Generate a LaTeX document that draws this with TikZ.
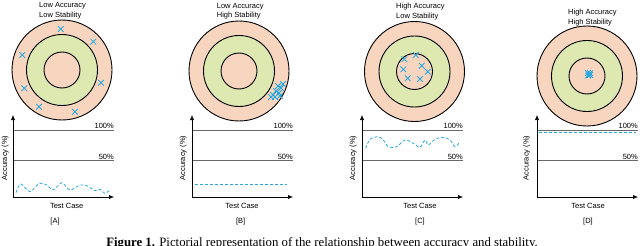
\documentclass[tikz,border=0pt]{standalone}
\usepackage{fontspec}
\setmainfont{Liberation Serif}
\setsansfont{Liberation Sans}
\usetikzlibrary{arrows.meta,shapes.misc}

\definecolor{peach}{RGB}{247,213,190}
\definecolor{lime}{RGB}{222,233,178}
\definecolor{shot}{RGB}{41,168,224}
\definecolor{rulegray}{RGB}{105,105,105}

\tikzset{
    ring/.style={circle, draw=black, line width=0.9pt, inner sep=0pt},
    hit/.style={cross out, draw=shot, line width=0.85pt, minimum size=4.8pt, inner sep=0pt},
    axis/.style={draw=black, line width=0.6pt, -{Latex[length=5pt,width=4.2pt]}},
    pctline/.style={draw=rulegray, line width=0.7pt},
    trace/.style={draw=shot, line width=0.8pt, dash pattern=on 3pt off 2pt},
    lbl/.style={font=\sffamily\fontsize{7.5}{9.4}\selectfont, inner sep=0pt}
}

\begin{document}
\begin{tikzpicture}[x=1pt, y=-1pt]
\useasboundingbox (0,0) rectangle (640,246);

% targets and axes, one per panel
\foreach \p/\ax/\cx/\cy/\ay/\tc/\tl in {A/13/62/70/5.3/66.7/55, B/192/239/71/183.3/242/240.7,
                                        C/362/414.5/71.5/353.3/420/420, D/537/587/76/526.7/588/588} {
    \node[ring, fill=peach, minimum size=100pt] (\p-outer) at (\cx,\cy) {};
    \node[ring, fill=lime, minimum size=71pt] (\p-middle) at (\cx,\cy) {};
    \node[ring, fill=peach, minimum size=36pt] (\p-inner) at (\cx,\cy) {};
    \coordinate (\p-o) at (\ax,197);
    \coordinate (\p-top) at (\ax,115);
    \coordinate (\p-end) at (\ax+101,197);
    \coordinate (\p-full) at (\ax,130);
    \coordinate (\p-fullend) at (\ax+101,130);
    \coordinate (\p-half) at (\ax,160.7);
    \coordinate (\p-halfend) at (\ax+101,160.7);
    \draw[pctline] (\p-full) -- (\p-fullend);
    \draw[pctline] (\p-half) -- (\p-halfend);
    \draw[axis] (\p-o) -- (\p-top);
    \draw[axis] (\p-o) -- (\p-end);
    \node[lbl, anchor=base east] (\p-100) at (\ax+101,128.3) {100\%};
    \node[lbl, anchor=base east] (\p-50) at (\ax+101,159) {50\%};
    \node[lbl, rotate=90] (\p-ylabel) at (\ay,158) {Accuracy (\%)};
    \node[lbl] (\p-xlabel) at (\tc,205.5) {Test Case};
    \node[lbl] (\p-tag) at (\tl,222) {[\p]};
}

% titles
\node[lbl, anchor=north west, align=left] (A-title) at (39,2.6) {Low Accuracy\\Low Stability};
\node[lbl, anchor=north west, align=left] (B-title) at (216.7,3) {Low Accuracy\\High Stability};
\node[lbl, anchor=north west, align=left] (C-title) at (396,3) {High Accuracy\\Low Stability};
\node[lbl, anchor=north west, align=left] (D-title) at (568,9) {High Accuracy\\High Stability};

% shots
\foreach \x/\y in {60.7/29, 93.3/41.7, 22.3/55, 101/82.7, 24.3/88.3, 39/106.7, 75/111.7}
    \node[hit] at (\x,\y) {};
\foreach \x/\y in {273/95, 276/91, 279/93, 281/88, 283/84, 278/86, 271/97, 275/97, 280/96}
    \node[hit] at (\x,\y) {};
\foreach \x/\y in {415.7/55, 404.3/59.3, 421.7/65.7, 403.3/69.3, 427.7/71.7, 407.7/78.3, 420/79}
    \node[hit] at (\x,\y) {};
\foreach \x/\y in {588/73, 590/75, 589/74.3, 588.3/75.5, 590/73.3}
    \node[hit] at (\x,\y) {};

% accuracy traces
\draw[trace] plot[smooth] coordinates {(16,192.7) (20.7,184) (30,191.7) (39.3,183.3) (46.7,185)
    (53.3,190) (61.7,182.7) (70,190) (80,185) (87.3,186) (95,190.7) (100,189.3) (105,193.3) (110,190)};
\draw[trace] (195,184) -- (287,184);
\draw[trace] plot[smooth] coordinates {(365.7,148.3) (370,139.3) (378.3,136.7) (383.3,140) (388.3,146.7)
    (396.7,146.7) (405,140) (413.3,143.3) (420,147.3) (425,140) (428.3,145) (435,139.3) (443.3,137.3)
    (450,140) (455,146.7) (460,141.7)};
\draw[trace] (539,132) -- (636,132);

% caption, cut by the page edge as in the source
\node[font=\fontsize{12.8}{14}\selectfont, anchor=base, inner sep=0pt] (caption) at (322,246.5)
    {\textbf{Figure 1.} Pictorial representation of the relationship between accuracy and stability.};
\end{tikzpicture}
\end{document}
